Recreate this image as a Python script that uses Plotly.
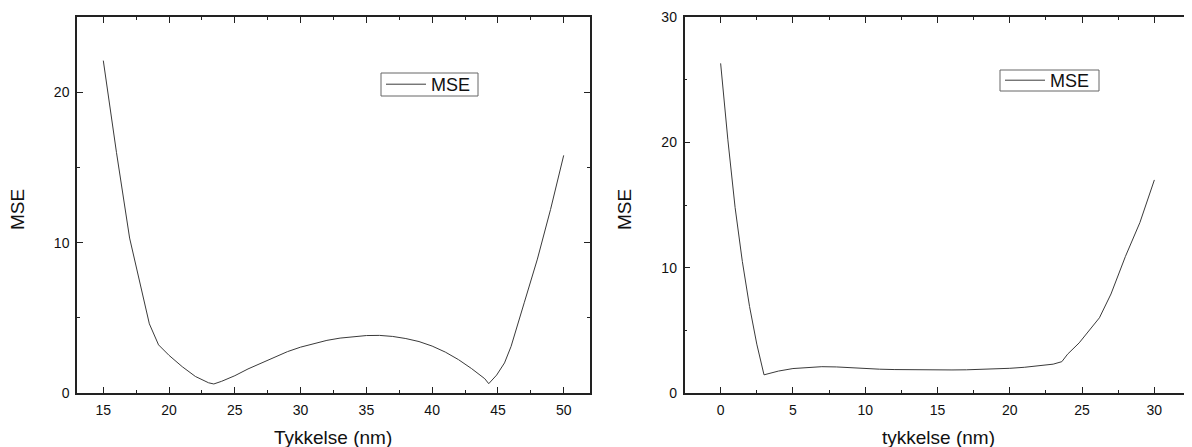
import plotly.graph_objects as go

# Left panel: Tykkelse (nm) vs MSE
thick_left = [15, 16, 17, 18, 18.5, 19.2, 20, 21, 22, 23, 23.4, 24, 25, 26, 27, 28, 29, 30,
              31, 32, 33, 34, 35, 36, 37, 38, 39, 40, 41, 42, 43, 44, 44.3, 44.9, 45.5, 46,
              46.5, 47, 48, 49, 50]
mse_left = [22.1, 16.0, 10.3, 6.6, 4.6, 3.2, 2.5, 1.75, 1.1, 0.68, 0.6, 0.78, 1.15, 1.6, 2.0,
            2.4, 2.75, 3.05, 3.3, 3.5, 3.65, 3.76, 3.82, 3.83, 3.76, 3.62, 3.42, 3.12, 2.72,
            2.22, 1.62, 0.95, 0.62, 1.19, 2.0, 3.1, 4.5, 6.0, 8.9, 12.2, 15.8]

# Right panel: tykkelse (nm) vs MSE
thick_right = [0, 0.5, 1, 1.5, 2, 2.5, 3, 4, 5, 6, 7, 8, 9, 10, 11, 12, 13, 14, 15, 16, 17,
               18, 19, 20, 21, 22, 23, 23.6, 24, 24.8, 26.2, 27, 28, 29, 30]
mse_right = [26.3, 20.2, 14.8, 10.5, 6.9, 3.9, 1.45, 1.75, 1.95, 2.05, 2.1, 2.08, 2.0, 1.95,
             1.9, 1.87, 1.85, 1.84, 1.84, 1.84, 1.85, 1.88, 1.92, 1.97, 2.05, 2.15, 2.3, 2.5,
             3.1, 4.0, 6.0, 7.9, 10.9, 13.6, 17.0]

series_name = "MSE"
xtitle_left = "Tykkelse (nm)"
xtitle_right = "tykkelse (nm)"
ytitle = "MSE"

# page body has an 8px margin: figure is sized/positioned accordingly
OFF = 8
W, H = 1184, 439
FONT = "Liberation Sans, Arial, sans-serif"
AX = "#222222"
LINE = "#3a3a3a"

def px_x(p):
    return (p - OFF) / W

def px_y(p):
    return 1 - (p - OFF) / H

fig = go.Figure()
fig.add_trace(go.Scatter(x=thick_left, y=mse_left, mode="lines", name=series_name,
                         line=dict(color=LINE, width=1), xaxis="x", yaxis="y",
                         legend="legend"))
fig.add_trace(go.Scatter(x=thick_right, y=mse_right, mode="lines", name=series_name,
                         line=dict(color=LINE, width=1), xaxis="x2", yaxis="y2",
                         legend="legend2"))

ydom = [px_y(393), px_y(17)]

common = dict(showgrid=False, zeroline=False, showline=True, linecolor=AX, linewidth=1.5,
              mirror="ticks", ticks="inside", ticklen=6, tickwidth=1.2, tickcolor=AX,
              automargin=False, tickfont=dict(family=FONT, size=14, color="#111"))
minor = dict(ticklen=3, ticks="inside", tickcolor=AX, tickwidth=1.2)

fig.update_layout(
    width=W, height=H,
    margin=dict(l=0, r=0, t=0, b=0),
    paper_bgcolor="white", plot_bgcolor="white",
    font=dict(family=FONT, color="#111"),
    xaxis=dict(domain=[px_x(77), px_x(590)], range=[13, 52], dtick=5, tick0=0,
               anchor="y", ticklabelstandoff=3, minor=dict(dtick=2.5, **minor), **common),
    yaxis=dict(domain=ydom, range=[0, 25], dtick=10, tick0=0, anchor="x",
               ticklabelstandoff=3, minor=dict(dtick=5, **minor), **common),
    xaxis2=dict(domain=[px_x(684.5), px_x(1190.5)], range=[-2.5, 32.5], dtick=5, tick0=0,
                anchor="y2", ticklabelstandoff=3, minor=dict(dtick=2.5, **minor), **common),
    yaxis2=dict(domain=ydom, range=[0, 30], dtick=10, tick0=0, anchor="x2",
                ticklabelstandoff=3, minor=dict(dtick=5, **minor), **common),
    legend=dict(x=px_x(381), y=px_y(84.5), xanchor="left", yanchor="middle",
                borderwidth=0, bgcolor="rgba(0,0,0,0)",
                font=dict(family=FONT, size=18, color="#111"), itemwidth=40),
    legend2=dict(x=px_x(1000), y=px_y(80.5), xanchor="left", yanchor="middle",
                 borderwidth=0, bgcolor="rgba(0,0,0,0)",
                 font=dict(family=FONT, size=18, color="#111"), itemwidth=40),
    showlegend=True,
)

# legend frames
for (x0, y0, x1, y1) in [(381, 73, 478, 96), (1000, 70, 1099, 91)]:
    fig.add_shape(type="rect", xref="paper", yref="paper",
                  x0=px_x(x0), x1=px_x(x1), y0=px_y(y1), y1=px_y(y0),
                  line=dict(color="#666", width=1), fillcolor="rgba(0,0,0,0)")

tfont = dict(family=FONT, size=19, color="#111")
annots = [
    dict(text=xtitle_left, x=px_x(333.5), y=px_y(437), xanchor="center", yanchor="middle"),
    dict(text=xtitle_right, x=px_x(938), y=px_y(437), xanchor="center", yanchor="middle"),
    dict(text=ytitle, x=px_x(17), y=px_y(210), textangle=-90, xanchor="center",
         yanchor="middle"),
    dict(text=ytitle, x=px_x(624), y=px_y(210), textangle=-90, xanchor="center",
         yanchor="middle"),
]
for a in annots:
    a.update(xref="paper", yref="paper", showarrow=False, font=tfont)
fig.update_layout(annotations=annots)

fig.write_html("out.html")
